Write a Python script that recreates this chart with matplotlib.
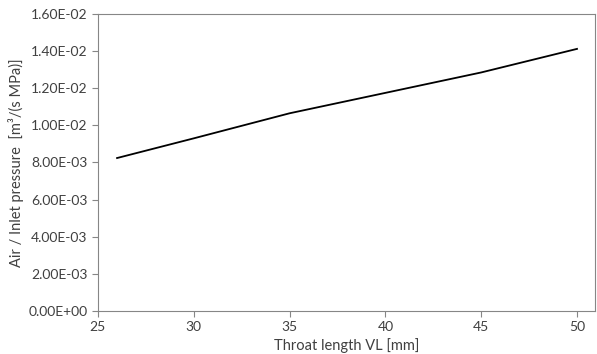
import numpy as np
import matplotlib.pyplot as plt
from matplotlib.ticker import FormatStrFormatter

throat_length = [26, 30, 35, 40, 45, 50]
air_per_pressure = [8.24e-3, 9.30e-3, 10.65e-3, 11.75e-3, 12.85e-3, 14.12e-3]

plt.rcParams['font.family'] = ['Lato', 'DejaVu Sans']
plt.rcParams['font.size'] = 10

fig = plt.figure(figsize=(5.97, 3.54), dpi=100)
ax = fig.add_axes([0.164, 0.1215, 0.833, 0.839])

ax.plot(throat_length, air_per_pressure, color='black', linewidth=1.3)

ax.set_xlim(25, 50.95)
ax.set_ylim(0, 0.016)
ax.set_xticks([25, 30, 35, 40, 45, 50])
ax.set_yticks(np.arange(0, 0.0161, 0.002))
ax.yaxis.set_major_formatter(FormatStrFormatter('%.2E'))

for s in ax.spines.values():
    s.set_color('#868686')
    s.set_linewidth(0.8)
ax.tick_params(colors='#868686', labelcolor='#404040', length=4, width=0.8)

ax.set_xlabel('Throat length VL [mm]', color='#404040', labelpad=3, fontsize=10.5)
ax.set_ylabel('Air / Inlet pressure  [m³/(s MPa)]', color='#404040', labelpad=3, fontsize=10.5)

fig.savefig('out.png', dpi=100)
